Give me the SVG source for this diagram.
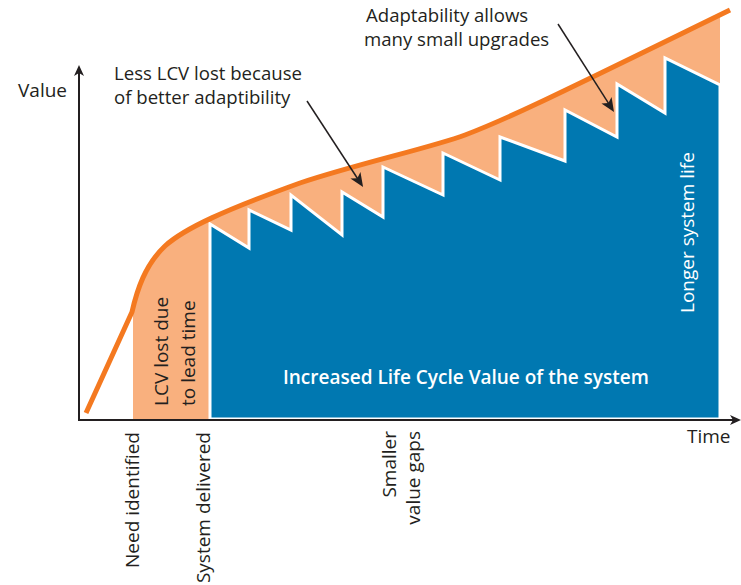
<svg xmlns="http://www.w3.org/2000/svg" width="741" height="585" viewBox="0 0 741 585">
  <style>
    .lbl { font-family: "Open Sans", "Noto Sans", "Liberation Sans", sans-serif; font-size: 19px; fill: #231f20; }
    .note-txt { font-size: 18.6px; }
    .wht { fill: #ffffff; }
    .bold { font-weight: 600; }
    .axis { stroke: #231f20; stroke-width: 2; fill: none; }
    .note { stroke: #231f20; stroke-width: 1.5; fill: none; }
    .curve { stroke: #f47920; stroke-width: 5; fill: none; stroke-linejoin: round; }
    .lost { fill: #f9b07e; }
    .value { fill: #0078b1; stroke: #ffffff; stroke-width: 3; stroke-linejoin: miter; }
  </style>
  <defs>
    <marker id="arrowAxis" viewBox="-7 -6 13 12" refX="0" refY="0" markerWidth="13" markerHeight="12" markerUnits="userSpaceOnUse" orient="auto">
      <path d="M5,0 L-6,-5 L-3,0 L-6,5 Z" fill="#231f20"/>
    </marker>
    <marker id="arrowNote" viewBox="-9 -7 16 14" refX="0" refY="0" markerWidth="16" markerHeight="14" markerUnits="userSpaceOnUse" orient="auto">
      <path d="M6,0 L-8,-6 L-4.5,0 L-8,6 Z" fill="#231f20"/>
    </marker>
    <clipPath id="areaClip">
      <rect x="133" y="0" width="587" height="420"/>
    </clipPath>
  </defs>

  <g id="lost-value-area">
    <path class="lost" clip-path="url(#areaClip)" d="M86,413 L132,312 C137,290 145,265 165,246 C185,228 225,210 300,183 C360,163 430,148 465,135 C510,118 560,93 730,10 L730,420 L86,420 Z"/>
  </g>

  <g id="system-value-area">
    <polygon class="value" points="210,419 210,224 249,248 249,210 291,230 291,195 342,235 342,192 383,217 383,167 443,195 443,153 500,180 500,137 565,161 565,110 617,137 617,84 665,113 665,58 720,85 720,419"/>
  </g>

  <g id="lcv-curve">
    <path class="curve" d="M86,413 L132,312 C137,290 145,265 165,246 C185,228 225,210 300,183 C360,163 430,148 465,135 C510,118 560,93 730,10"/>
  </g>

  <g id="axes">
    <line class="axis" x1="79" y1="421" x2="79" y2="70" marker-end="url(#arrowAxis)"/>
    <line class="axis" x1="78" y1="420" x2="736" y2="420" marker-end="url(#arrowAxis)"/>
    <text class="lbl" x="18" y="97">Value</text>
    <text class="lbl" x="687" y="443">Time</text>
  </g>

  <g id="connectors">
    <line class="note" x1="307" y1="101" x2="359.8" y2="182" marker-end="url(#arrowNote)"/>
    <line class="note" x1="558" y1="24" x2="610.8" y2="106.9" marker-end="url(#arrowNote)"/>
  </g>

  <g id="note-less-lcv">
    <text class="lbl note-txt" x="114" y="80">Less LCV lost because</text>
    <text class="lbl note-txt" x="114" y="104">of better adaptibility</text>
  </g>

  <g id="note-adaptability">
    <text class="lbl note-txt" x="366" y="22">Adaptability allows</text>
    <text class="lbl note-txt" x="364" y="46">many small upgrades</text>
  </g>

  <g id="label-lead-time">
    <text class="lbl" transform="translate(168,406) rotate(-90)">LCV lost due</text>
    <text class="lbl" transform="translate(195,406) rotate(-90)">to lead time</text>
  </g>

  <g id="label-increased">
    <text class="lbl wht bold" x="283" y="384">Increased Life Cycle Value of the system</text>
  </g>

  <g id="label-longer">
    <text class="lbl wht" transform="translate(694,313) rotate(-90)">Longer system life</text>
  </g>

  <g id="label-need">
    <text class="lbl" text-anchor="end" transform="translate(139,432) rotate(-90)">Need identified</text>
  </g>

  <g id="label-delivered">
    <text class="lbl" text-anchor="end" transform="translate(210,432) rotate(-90)">System delivered</text>
  </g>

  <g id="label-gaps">
    <text class="lbl" text-anchor="end" transform="translate(396,431) rotate(-90)">Smaller</text>
    <text class="lbl" text-anchor="end" transform="translate(420,431) rotate(-90)">value gaps</text>
  </g>
</svg>
